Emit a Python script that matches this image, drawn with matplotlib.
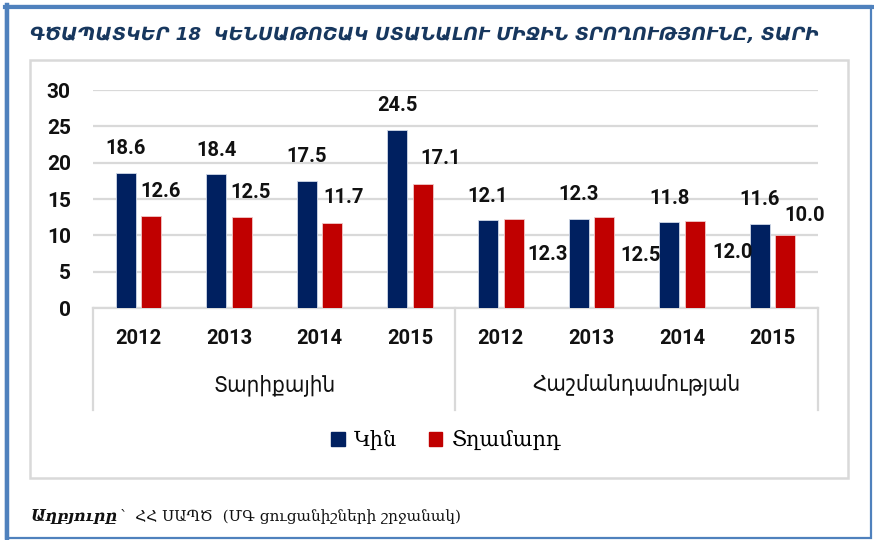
import matplotlib
matplotlib.use("Agg")
import matplotlib.pyplot as plt
from matplotlib.lines import Line2D
from matplotlib.patches import Rectangle
import numpy as np

# ---- data ----
years = ["2012", "2013", "2014", "2015", "2012", "2013", "2014", "2015"]
groups = ["Տարիքային", "Հաշմանդամության"]
series_names = ["Կին", "Տղամարդ"]
kin = [18.6, 18.4, 17.5, 24.5, 12.1, 12.3, 11.8, 11.6]
tghamard = [12.6, 12.5, 11.7, 17.1, 12.3, 12.5, 12.0, 10.0]
yticks = [0, 5, 10, 15, 20, 25, 30]
title = "ԳԾԱՊԱՏԿԵՐ 18  ԿԵՆՍԱԹՈՇԱԿ ՍՏԱՆԱԼՈՒ ՄԻՋԻՆ ՏՐՈՂՈՒԹՅՈՒՆԸ, ՏԱՐԻ"
source_bold = "Աղբյուրը"
source_rest = "՝  ՀՀ ՍԱՊԾ  (ՄԳ ցուցանիշների շրջանակ)"

# label placement styling (pixel offsets of the male-series labels)
men_dx = [9, 9, 11, 18, 34, 36, 38, 19]
men_dy = [25, 25, 25, 25, -36, -38, -32, 20]

NAVY = "#002060"
RED = "#C00000"
GRID = "#D9D9D9"
BLUE = "#4F81BD"

W, H = 874, 540
fig = plt.figure(figsize=(W / 100, H / 100), dpi=100)
fig.patch.set_facecolor("white")

def fx(px):
    return px / W

def fy(py):
    return 1 - py / H

# axes placement
L, R, T, B = 93, 818, 90, 308
ax = fig.add_axes([fx(L), fy(B), (R - L) / W, (B - T) / H])
ax.set_facecolor("white")

x = np.arange(len(years))
bw = 0.22
off = 0.141
ax.bar(x - off, kin, bw, color=NAVY, edgecolor="#d0d8e8", linewidth=0.6, zorder=3)
ax.bar(x + off, tghamard, bw, color=RED, edgecolor="#f0c8c8", linewidth=0.6, zorder=3)

ax.set_xlim(-0.5, len(years) - 0.5)
ax.set_ylim(0, 30)
ax.set_yticks(yticks)
ax.yaxis.grid(True, color=GRID, linewidth=1.6, zorder=0)
ax.set_axisbelow(True)
for s in ["top", "right", "left"]:
    ax.spines[s].set_visible(False)
ax.spines["bottom"].set_color(GRID)
ax.spines["bottom"].set_linewidth(1.6)
ax.set_xticks([])
ax.tick_params(axis="y", length=0, pad=16)
for lab in ax.get_yticklabels():
    lab.set_fontfamily("Roboto")
    lab.set_fontweight("bold")
    lab.set_fontsize(15)
    lab.set_color("#111111")

lblfont = dict(family="Roboto", weight="bold", size=14.5, color="#111111")
for i, v in enumerate(kin):
    ax.annotate(f"{v:.1f}", (x[i] - off, v), xytext=(0, 24), textcoords="offset pixels",
                ha="center", va="center", **lblfont)
for i, v in enumerate(tghamard):
    ax.annotate(f"{v:.1f}", (x[i] + off, v), xytext=(men_dx[i], men_dy[i]),
                textcoords="offset pixels", ha="center", va="center", **lblfont)

# year labels and group labels
for i, yr in enumerate(years):
    fig.text(fx(L + (i + 0.5) * (R - L) / len(years)), fy(338), yr, ha="center", va="center",
             family="Roboto", weight="bold", size=14.5, color="#111111")
for gi, g in enumerate(groups):
    cx = L + (gi * 4 + 2) * (R - L) / len(years)
    fig.text(fx(cx), fy(385), g, ha="center", va="center",
             family="DejaVu Sans", size=16, color="#111111", stretch="condensed")

# category separators
for px in [L, L + 4 * (R - L) / len(years), R]:
    fig.add_artist(Line2D([fx(px), fx(px)], [fy(308), fy(410)], color=GRID, linewidth=1.6))

# legend
handles = [Rectangle((0, 0), 1, 1, color=NAVY), Rectangle((0, 0), 1, 1, color=RED)]
fig.legend(handles, series_names, loc="center", bbox_to_anchor=(fx(446), fy(440)), ncol=2,
           frameon=False, handlelength=0.65, handleheight=0.65, handletextpad=0.45,
           columnspacing=1.5, prop=dict(family="DejaVu Serif", size=15))

# title
fig.text(fx(30), fy(35), title, ha="left", va="center", family="DejaVu Sans",
         style="italic", weight="bold", size=13.2, color="#17375E")

# source line
t1 = fig.text(fx(30), fy(517), source_bold, ha="left", va="center", family="DejaVu Serif",
              style="italic", weight="bold", size=11.5, color="#111111")
fig.canvas.draw()
bb = t1.get_window_extent()
fig.text(fx(bb.x1 + 3), fy(517), source_rest, ha="left", va="center", family="DejaVu Serif",
         size=11.0, color="#111111")

# inner grey box
fig.add_artist(Rectangle((fx(30), fy(478)), (848 - 30) / W, (478 - 60) / H, fill=False,
                         edgecolor=GRID, linewidth=1.8, transform=fig.transFigure))
# outer blue frame
fig.add_artist(Rectangle((fx(6), fy(538)), (871 - 6) / W, (538 - 6) / H, fill=False,
                         edgecolor=BLUE, linewidth=1.6, transform=fig.transFigure))
fig.add_artist(Line2D([fx(7), fx(7)], [fy(5), fy(539)], color=BLUE, linewidth=3.2))
fig.add_artist(Line2D([fx(5), fx(872)], [fy(7), fy(7)], color=BLUE, linewidth=3.0))

fig.savefig("out.png", dpi=100, facecolor="white")
